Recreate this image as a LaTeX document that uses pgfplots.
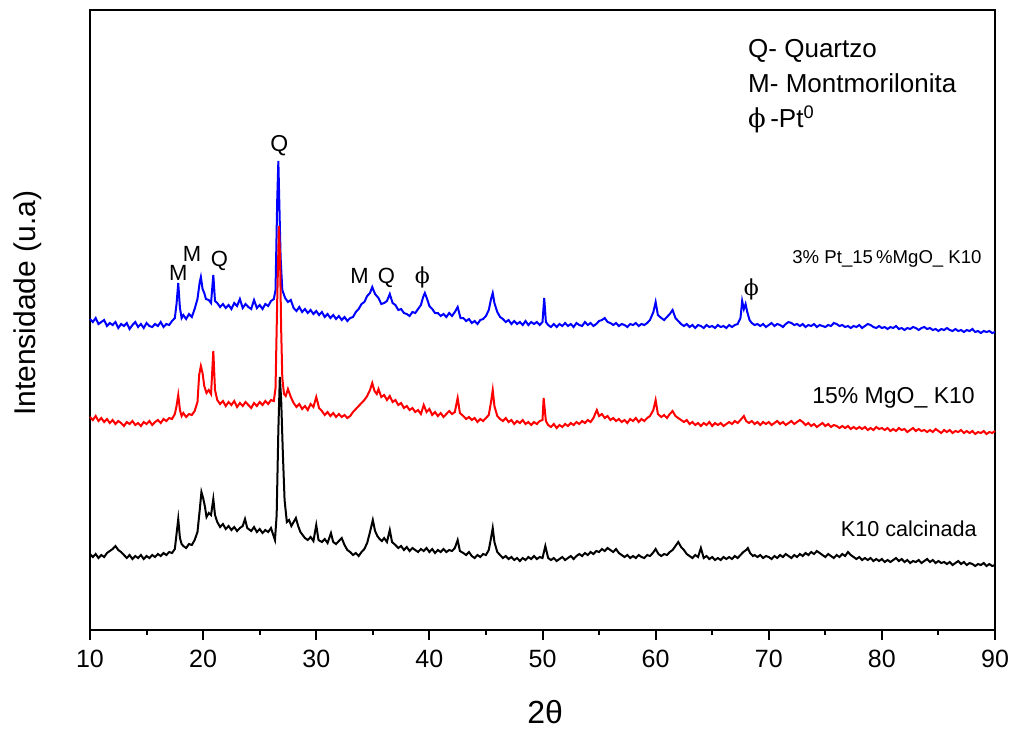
\documentclass[border=0pt]{standalone}
\usepackage{fontspec}
\setmainfont{Liberation Sans}
\newfontfamily\phifont{DejaVu Serif}
\usepackage{pgfplots}
\usepackage{pgfplotstable}
\pgfplotsset{compat=1.18}

% 3% Pt / 15% MgO / K10
\pgfplotstableread[row sep=\\]{
x y \\
10 311\\ 10.25 308\\ 10.5 312\\ 10.75 306\\ 11 308\\ 11.25 310\\ 11.5 304\\ 11.75 307\\ 12 305\\ 12.25 308\\
12.5 302\\ 12.75 306\\ 13 304\\ 13.25 307\\ 13.5 301\\ 13.75 305\\ 14 308\\ 14.25 303\\ 14.5 306\\ 14.75 302\\
15 307\\ 15.25 304\\ 15.5 303\\ 15.75 306\\ 16 304\\ 16.25 308\\ 16.5 303\\ 16.75 306\\ 17 305\\ 17.25 309\\
17.5 312\\ 17.65 326\\ 17.8 347\\ 17.95 322\\ 18.1 312\\ 18.25 315\\ 18.5 311\\ 18.75 316\\ 19 313\\ 19.25 321\\
19.5 331\\ 19.7 348\\ 19.8 353\\ 19.95 341\\ 20.1 337\\ 20.25 331\\ 20.5 330\\ 20.7 327\\ 20.9 355\\ 21.05 329\\
21.25 327\\ 21.5 323\\ 21.75 326\\ 22 322\\ 22.25 325\\ 22.5 321\\ 22.75 327\\ 23 324\\ 23.25 331\\ 23.5 322\\
23.75 326\\ 24 323\\ 24.25 321\\ 24.5 330\\ 24.75 322\\ 25 325\\ 25.25 321\\ 25.5 326\\ 25.75 324\\ 26 329\\
26.25 331\\ 26.4 340\\ 26.55 430\\ 26.65 469\\ 26.75 420\\ 26.85 372\\ 27 340\\ 27.25 332\\ 27.5 328\\ 27.75 330\\
28 322\\ 28.25 319\\ 28.5 323\\ 28.75 318\\ 29 321\\ 29.25 317\\ 29.5 320\\ 29.75 316\\ 30 319\\ 30.25 315\\
30.5 318\\ 30.75 313\\ 31 316\\ 31.25 312\\ 31.5 315\\ 31.75 311\\ 32 314\\ 32.25 310\\ 32.5 313\\ 32.75 309\\
33 312\\ 33.25 313\\ 33.5 318\\ 33.75 321\\ 34 326\\ 34.25 328\\ 34.5 334\\ 34.75 337\\ 34.95 343\\ 35.2 336\\
35.5 332\\ 35.75 326\\ 36 327\\ 36.25 329\\ 36.5 336\\ 36.75 327\\ 37 325\\ 37.25 320\\ 37.5 321\\ 37.75 317\\
38 316\\ 38.25 314\\ 38.5 318\\ 38.75 317\\ 39 321\\ 39.25 325\\ 39.45 333\\ 39.6 337\\ 39.8 331\\ 40 324\\
40.25 321\\ 40.5 317\\ 40.75 317\\ 41 314\\ 41.25 316\\ 41.5 313\\ 41.75 317\\ 42 314\\ 42.25 318\\ 42.5 323\\
42.75 312\\ 43 312\\ 43.25 309\\ 43.5 311\\ 43.75 307\\ 44 309\\ 44.25 306\\ 44.5 310\\ 44.75 311\\ 45 314\\
45.25 320\\ 45.45 331\\ 45.6 337\\ 45.75 327\\ 46 318\\ 46.25 313\\ 46.5 311\\ 46.75 308\\ 47 310\\ 47.25 306\\
47.5 309\\ 47.75 306\\ 48 308\\ 48.25 305\\ 48.5 309\\ 48.75 305\\ 49 308\\ 49.25 306\\ 49.5 308\\ 49.75 305\\
50 308\\ 50.15 332\\ 50.3 308\\ 50.5 305\\ 50.75 303\\ 51 306\\ 51.25 303\\ 51.5 306\\ 51.75 304\\ 52 307\\
52.25 304\\ 52.5 306\\ 52.75 303\\ 53 307\\ 53.25 305\\ 53.5 304\\ 53.75 308\\ 54 305\\ 54.25 307\\ 54.5 304\\
54.75 306\\ 55 309\\ 55.25 310\\ 55.5 312\\ 55.75 308\\ 56 307\\ 56.25 305\\ 56.5 307\\ 56.75 304\\ 57 306\\
57.25 305\\ 57.5 303\\ 57.75 306\\ 58 305\\ 58.25 307\\ 58.5 304\\ 58.75 306\\ 59 305\\ 59.25 307\\ 59.5 310\\
59.8 318\\ 60 328\\ 60.2 315\\ 60.5 312\\ 60.75 310\\ 61 313\\ 61.25 316\\ 61.5 320\\ 61.75 312\\ 62 309\\
62.25 306\\ 62.5 304\\ 62.75 306\\ 63 303\\ 63.25 305\\ 63.5 302\\ 63.75 305\\ 64 304\\ 64.25 302\\ 64.5 305\\
64.75 303\\ 65 304\\ 65.25 302\\ 65.5 305\\ 65.75 303\\ 66 304\\ 66.25 302\\ 66.5 305\\ 66.75 303\\ 67 305\\
67.25 306\\ 67.5 312\\ 67.65 329\\ 67.8 321\\ 67.95 326\\ 68.1 318\\ 68.3 310\\ 68.5 307\\ 68.75 305\\ 69 306\\
69.25 304\\ 69.5 306\\ 69.75 303\\ 70 305\\ 70.25 307\\ 70.5 304\\ 70.75 306\\ 71 305\\ 71.25 303\\ 71.5 306\\
71.75 308\\ 72 307\\ 72.25 305\\ 72.5 306\\ 72.75 304\\ 73 306\\ 73.25 303\\ 73.5 305\\ 73.75 304\\ 74 306\\
74.25 303\\ 74.5 305\\ 74.75 304\\ 75 303\\ 75.25 305\\ 75.5 304\\ 75.75 307\\ 76 306\\ 76.25 304\\ 76.5 305\\
76.75 303\\ 77 304\\ 77.25 302\\ 77.5 304\\ 77.75 303\\ 78 305\\ 78.25 302\\ 78.5 304\\ 78.75 306\\ 79 305\\
79.25 303\\ 79.5 302\\ 79.75 304\\ 80 302\\ 80.25 303\\ 80.5 301\\ 80.75 303\\ 81 302\\ 81.25 304\\ 81.5 301\\
81.75 302\\ 82 300\\ 82.25 302\\ 82.5 301\\ 82.75 303\\ 83 302\\ 83.25 300\\ 83.5 302\\ 83.75 303\\ 84 301\\
84.25 302\\ 84.5 300\\ 84.75 301\\ 85 299\\ 85.25 301\\ 85.5 300\\ 85.75 302\\ 86 300\\ 86.25 299\\ 86.5 301\\
86.75 299\\ 87 300\\ 87.25 298\\ 87.5 300\\ 87.75 299\\ 88 301\\ 88.25 298\\ 88.5 299\\ 88.75 297\\ 89 299\\
89.25 298\\ 89.5 299\\ 89.75 297\\ 90 298\\
}\ptmgo

% 15% MgO / K10
\pgfplotstableread[row sep=\\]{
x y \\
10 213\\ 10.25 210\\ 10.5 214\\ 10.75 209\\ 11 212\\ 11.25 208\\ 11.5 211\\ 11.75 207\\ 12 210\\ 12.25 206\\
12.5 209\\ 12.75 207\\ 13 204\\ 13.25 208\\ 13.5 206\\ 13.75 209\\ 14 205\\ 14.25 207\\ 14.5 204\\ 14.75 208\\
15 206\\ 15.25 209\\ 15.5 205\\ 15.75 208\\ 16 210\\ 16.25 207\\ 16.5 211\\ 16.75 209\\ 17 212\\ 17.25 211\\
17.5 216\\ 17.65 224\\ 17.8 235\\ 17.95 220\\ 18.1 214\\ 18.25 217\\ 18.5 213\\ 18.75 216\\ 19 215\\ 19.25 219\\
19.5 228\\ 19.65 255\\ 19.8 264\\ 19.95 257\\ 20.1 244\\ 20.3 237\\ 20.5 240\\ 20.7 236\\ 20.9 279\\ 21.05 240\\
21.25 230\\ 21.5 226\\ 21.75 229\\ 22 224\\ 22.25 228\\ 22.5 225\\ 22.75 229\\ 23 223\\ 23.25 227\\ 23.5 224\\
23.75 228\\ 24 225\\ 24.25 222\\ 24.5 227\\ 24.75 224\\ 25 228\\ 25.25 225\\ 25.5 229\\ 25.75 226\\ 26 230\\
26.25 229\\ 26.4 242\\ 26.55 330\\ 26.7 404\\ 26.8 372\\ 26.9 300\\ 27 252\\ 27.15 236\\ 27.3 234\\ 27.5 241\\
27.75 233\\ 28 227\\ 28.25 223\\ 28.5 226\\ 28.75 221\\ 29 224\\ 29.25 220\\ 29.5 226\\ 29.75 223\\ 30 233\\
30.25 222\\ 30.5 219\\ 30.75 215\\ 31 218\\ 31.25 214\\ 31.5 217\\ 31.75 213\\ 32 216\\ 32.25 213\\ 32.5 215\\
32.75 212\\ 33 214\\ 33.25 218\\ 33.5 221\\ 33.75 224\\ 34 227\\ 34.25 230\\ 34.5 234\\ 34.75 240\\ 34.95 247\\
35.15 239\\ 35.35 236\\ 35.5 241\\ 35.75 233\\ 36 235\\ 36.25 230\\ 36.5 234\\ 36.75 228\\ 37 230\\ 37.25 225\\
37.5 227\\ 37.75 222\\ 38 224\\ 38.25 220\\ 38.5 222\\ 38.75 218\\ 39 220\\ 39.25 216\\ 39.5 225\\ 39.75 218\\
40 221\\ 40.25 215\\ 40.5 218\\ 40.75 214\\ 41 217\\ 41.25 213\\ 41.5 216\\ 41.75 219\\ 42 216\\ 42.25 218\\
42.5 232\\ 42.7 217\\ 43 214\\ 43.25 211\\ 43.5 213\\ 43.75 210\\ 44 212\\ 44.25 208\\ 44.5 211\\ 44.75 209\\
45 212\\ 45.25 215\\ 45.45 228\\ 45.6 240\\ 45.75 224\\ 46 214\\ 46.25 211\\ 46.5 209\\ 46.75 212\\ 47 208\\
47.25 210\\ 47.5 206\\ 47.75 209\\ 48 207\\ 48.25 210\\ 48.5 206\\ 48.75 208\\ 49 205\\ 49.25 208\\ 49.5 206\\
49.75 209\\ 50 210\\ 50.1 232\\ 50.3 209\\ 50.5 205\\ 50.75 203\\ 51 206\\ 51.25 202\\ 51.5 205\\ 51.75 203\\
52 206\\ 52.25 204\\ 52.5 207\\ 52.75 205\\ 53 208\\ 53.25 206\\ 53.5 209\\ 53.75 207\\ 54 210\\ 54.25 208\\
54.5 212\\ 54.8 220\\ 55 214\\ 55.25 216\\ 55.5 212\\ 55.75 214\\ 56 210\\ 56.25 212\\ 56.5 209\\ 56.75 211\\
57 208\\ 57.25 210\\ 57.5 207\\ 57.75 211\\ 58 209\\ 58.25 212\\ 58.5 208\\ 58.75 211\\ 59 209\\ 59.25 212\\
59.5 214\\ 59.8 220\\ 60 230\\ 60.2 216\\ 60.5 213\\ 60.75 215\\ 61 212\\ 61.25 216\\ 61.5 219\\ 61.75 214\\
62 212\\ 62.25 210\\ 62.5 208\\ 62.75 210\\ 63 206\\ 63.25 208\\ 63.5 205\\ 63.75 207\\ 64 204\\ 64.25 207\\
64.5 205\\ 64.75 208\\ 65 204\\ 65.25 207\\ 65.5 205\\ 65.75 207\\ 66 204\\ 66.25 206\\ 66.5 208\\ 66.75 206\\
67 209\\ 67.25 207\\ 67.5 210\\ 67.8 214\\ 68 209\\ 68.25 207\\ 68.5 209\\ 68.75 206\\ 69 208\\ 69.25 205\\
69.5 208\\ 69.75 206\\ 70 208\\ 70.25 205\\ 70.5 207\\ 70.75 209\\ 71 206\\ 71.25 208\\ 71.5 205\\ 71.75 207\\
72 209\\ 72.25 206\\ 72.5 208\\ 72.75 210\\ 73 208\\ 73.25 205\\ 73.5 207\\ 73.75 204\\ 74 206\\ 74.25 203\\
74.5 205\\ 74.75 207\\ 75 204\\ 75.25 206\\ 75.5 203\\ 75.75 205\\ 76 204\\ 76.25 202\\ 76.5 204\\ 76.75 202\\
77 204\\ 77.25 201\\ 77.5 203\\ 77.75 201\\ 78 203\\ 78.25 201\\ 78.5 203\\ 78.75 200\\ 79 202\\ 79.25 200\\
79.5 203\\ 79.75 201\\ 80 202\\ 80.25 200\\ 80.5 202\\ 80.75 199\\ 81 201\\ 81.25 199\\ 81.5 202\\ 81.75 200\\
82 201\\ 82.25 198\\ 82.5 200\\ 82.75 202\\ 83 199\\ 83.25 201\\ 83.5 199\\ 83.75 200\\ 84 198\\ 84.25 200\\
84.5 198\\ 84.75 201\\ 85 199\\ 85.25 197\\ 85.5 200\\ 85.75 198\\ 86 200\\ 86.25 197\\ 86.5 199\\ 86.75 198\\
87 200\\ 87.25 197\\ 87.5 199\\ 87.75 197\\ 88 199\\ 88.25 196\\ 88.5 198\\ 88.75 197\\ 89 199\\ 89.25 196\\
89.5 198\\ 89.75 197\\ 90 199\\
}\mgo

% K10 calcinada
\pgfplotstableread[row sep=\\]{
x y \\
10 76\\ 10.25 73\\ 10.5 76\\ 10.75 72\\ 11 75\\ 11.25 73\\ 11.5 77\\ 11.75 79\\ 12 81\\ 12.25 84\\
12.5 80\\ 12.75 78\\ 13 75\\ 13.25 72\\ 13.5 75\\ 13.75 71\\ 14 74\\ 14.25 72\\ 14.5 75\\ 14.75 71\\
15 74\\ 15.25 72\\ 15.5 75\\ 15.75 73\\ 16 76\\ 16.25 74\\ 16.5 77\\ 16.75 75\\ 17 78\\ 17.25 77\\
17.5 81\\ 17.65 96\\ 17.8 111\\ 17.95 92\\ 18.1 86\\ 18.25 84\\ 18.5 82\\ 18.75 86\\ 19 85\\ 19.25 90\\
19.5 98\\ 19.7 120\\ 19.85 138\\ 20 132\\ 20.15 124\\ 20.3 113\\ 20.5 117\\ 20.7 115\\ 20.9 131\\ 21.05 115\\
21.25 108\\ 21.5 103\\ 21.75 106\\ 22 101\\ 22.25 104\\ 22.5 100\\ 22.75 103\\ 23 99\\ 23.25 102\\ 23.5 104\\
23.7 111\\ 23.9 102\\ 24.25 99\\ 24.5 103\\ 24.75 98\\ 25 101\\ 25.25 97\\ 25.5 100\\ 25.75 98\\ 26 102\\
26.2 95\\ 26.35 90\\ 26.5 115\\ 26.65 200\\ 26.78 253\\ 26.9 230\\ 27.05 176\\ 27.2 130\\ 27.4 108\\ 27.6 110\\
27.8 104\\ 28 108\\ 28.2 112\\ 28.4 104\\ 28.6 98\\ 28.8 95\\ 29 92\\ 29.25 90\\ 29.5 93\\ 29.75 89\\
30 105\\ 30.2 90\\ 30.5 88\\ 30.75 91\\ 31 87\\ 31.3 97\\ 31.5 88\\ 31.75 86\\ 32 89\\ 32.25 92\\
32.5 85\\ 32.75 80\\ 33 78\\ 33.25 75\\ 33.5 77\\ 33.75 74\\ 34 78\\ 34.25 81\\ 34.5 87\\ 34.75 98\\
35 110\\ 35.2 99\\ 35.4 94\\ 35.6 91\\ 35.8 89\\ 36 92\\ 36.25 88\\ 36.5 100\\ 36.7 88\\ 37 85\\
37.25 82\\ 37.5 84\\ 37.75 80\\ 38 83\\ 38.25 79\\ 38.5 82\\ 38.75 80\\ 39 78\\ 39.25 81\\ 39.5 79\\
39.75 82\\ 40 78\\ 40.25 81\\ 40.5 77\\ 40.75 80\\ 41 78\\ 41.25 81\\ 41.5 78\\ 41.75 80\\ 42 79\\
42.25 82\\ 42.5 90\\ 42.7 79\\ 43 77\\ 43.25 75\\ 43.5 78\\ 43.75 74\\ 44 72\\ 44.25 75\\ 44.5 73\\
44.75 76\\ 45 75\\ 45.25 80\\ 45.45 92\\ 45.6 102\\ 45.75 88\\ 46 78\\ 46.25 75\\ 46.5 72\\ 46.75 74\\
47 71\\ 47.25 73\\ 47.5 70\\ 47.75 72\\ 48 69\\ 48.25 72\\ 48.5 70\\ 48.75 73\\ 49 71\\ 49.25 74\\
49.5 71\\ 49.75 73\\ 50 72\\ 50.25 84\\ 50.5 72\\ 50.75 70\\ 51 72\\ 51.25 69\\ 51.5 71\\ 51.75 73\\
52 70\\ 52.25 72\\ 52.5 74\\ 52.75 71\\ 53 74\\ 53.25 76\\ 53.5 74\\ 53.75 77\\ 54 75\\ 54.25 78\\
54.5 76\\ 54.75 79\\ 55 78\\ 55.25 81\\ 55.5 79\\ 55.75 82\\ 56 80\\ 56.25 78\\ 56.5 81\\ 56.75 77\\
57 75\\ 57.25 73\\ 57.5 75\\ 57.75 72\\ 58 74\\ 58.25 72\\ 58.5 75\\ 58.75 73\\ 59 72\\ 59.25 75\\
59.5 74\\ 59.75 77\\ 60 81\\ 60.25 76\\ 60.5 74\\ 60.75 76\\ 61 75\\ 61.25 78\\ 61.5 80\\ 61.75 84\\
62 88\\ 62.25 83\\ 62.5 80\\ 62.75 76\\ 63 74\\ 63.25 72\\ 63.5 75\\ 63.75 73\\ 64 82\\ 64.25 72\\
64.5 74\\ 64.75 71\\ 65 73\\ 65.25 70\\ 65.5 72\\ 65.75 70\\ 66 73\\ 66.25 71\\ 66.5 73\\ 66.75 71\\
67 74\\ 67.25 72\\ 67.5 75\\ 67.75 78\\ 68 80\\ 68.15 82\\ 68.35 77\\ 68.6 74\\ 68.75 75\\ 69 73\\
69.25 75\\ 69.5 72\\ 69.75 74\\ 70 73\\ 70.25 71\\ 70.5 74\\ 70.75 72\\ 71 75\\ 71.25 73\\ 71.5 76\\
71.75 74\\ 72 72\\ 72.25 75\\ 72.5 73\\ 72.75 76\\ 73 74\\ 73.25 77\\ 73.5 75\\ 73.75 78\\ 74 76\\
74.25 79\\ 74.5 77\\ 74.75 75\\ 75 73\\ 75.25 76\\ 75.5 74\\ 75.75 72\\ 76 75\\ 76.25 73\\ 76.5 76\\
76.75 74\\ 77 78\\ 77.25 75\\ 77.5 73\\ 77.75 71\\ 78 73\\ 78.25 70\\ 78.5 72\\ 78.75 70\\ 79 72\\
79.25 69\\ 79.5 71\\ 79.75 69\\ 80 71\\ 80.25 68\\ 80.5 70\\ 80.75 68\\ 81 70\\ 81.25 72\\ 81.5 69\\
81.75 71\\ 82 68\\ 82.25 70\\ 82.5 67\\ 82.75 69\\ 83 68\\ 83.25 70\\ 83.5 67\\ 83.75 69\\ 84 71\\
84.25 68\\ 84.5 70\\ 84.75 67\\ 85 69\\ 85.25 67\\ 85.5 68\\ 85.75 66\\ 86 68\\ 86.25 65\\ 86.5 67\\
86.75 69\\ 87 66\\ 87.25 68\\ 87.5 65\\ 87.75 67\\ 88 66\\ 88.25 64\\ 88.5 66\\ 88.75 65\\ 89 67\\
89.25 64\\ 89.5 66\\ 89.75 64\\ 90 65\\
}\kten

\begin{document}
\begin{tikzpicture}
\begin{axis}[
  name=ax,
  scale only axis,
  width=452.5pt, height=310pt,
  xmin=10, xmax=90, ymin=0, ymax=620,
  xtick={10,20,...,90},
  minor x tick num=1,
  ytick=\empty,
  xtick pos=left,
  tick align=outside,
  major tick length=5pt,
  minor tick length=2.5pt,
  every tick/.style={black, line width=1pt},
  axis line style={line width=1.2pt},
  /pgf/number format/assume math mode=true,
  xticklabel style={font=\fontsize{12.5}{14}\selectfont, yshift=-1.5pt},
  clip=false,
]
\addplot[blue, line width=1pt] table {\ptmgo};
\addplot[red, line width=1pt] table {\mgo};
\addplot[black, line width=1pt] table {\kten};

% phase markers
\begin{scope}[every node/.style={font=\fontsize{11}{13}\selectfont, inner sep=0pt}]
\node[anchor=base] at (axis cs:26.74,479) {\fontsize{11.5}{13}\selectfont Q};
\node[anchor=base] at (axis cs:17.8,350) {M};
\node[anchor=base] at (axis cs:19.03,369) {M};
\node[anchor=base] at (axis cs:21.45,364) {Q};
\node[anchor=base] at (axis cs:33.83,347) {M};
\node[anchor=base] at (axis cs:36.2,347) {Q};
\node at (axis cs:39.38,353) {\phifont ϕ};
\node at (axis cs:68.46,341) {\phifont ϕ};
\end{scope}

% sample names
\node[anchor=base east, inner sep=0pt, font=\fontsize{9.3}{11}\selectfont] at (axis cs:88.85,367) {3\% Pt\_15\,\%MgO\_ K10};
\node[anchor=base east, inner sep=0pt, font=\fontsize{11.5}{13}\selectfont] at (axis cs:88.24,227) {15\% MgO\_ K10};
\node[anchor=base east, inner sep=0pt, font=\fontsize{10.8}{13}\selectfont] at (axis cs:88.41,94) {K10 calcinada};

% phase key
\begin{scope}[every node/.style={anchor=base west, inner sep=0pt, font=\fontsize{13}{15}\selectfont}]
\node at (axis cs:68.15,573) {Q- Quartzo};
\node at (axis cs:68.15,538) {M- Montmorilonita};
\node at (axis cs:68.15,503) {{\phifont ϕ}\,-Pt\textsuperscript{0}};
\end{scope}

% axis titles
\node[rotate=90, inner sep=0pt, font=\fontsize{15}{18}\selectfont] at ([xshift=-31.25pt]rel axis cs:0,0.527) {Intensidade (u.a)};
\node[inner sep=0pt, font=\fontsize{16}{19}\selectfont] at ([yshift=-41pt]rel axis cs:0.503,0) {2θ};
\end{axis}
\pgfresetboundingbox
\path ([shift={(-45pt,-49.5pt)}]ax.south west) rectangle ([shift={(10pt,5pt)}]ax.north east);
\end{tikzpicture}
\end{document}
